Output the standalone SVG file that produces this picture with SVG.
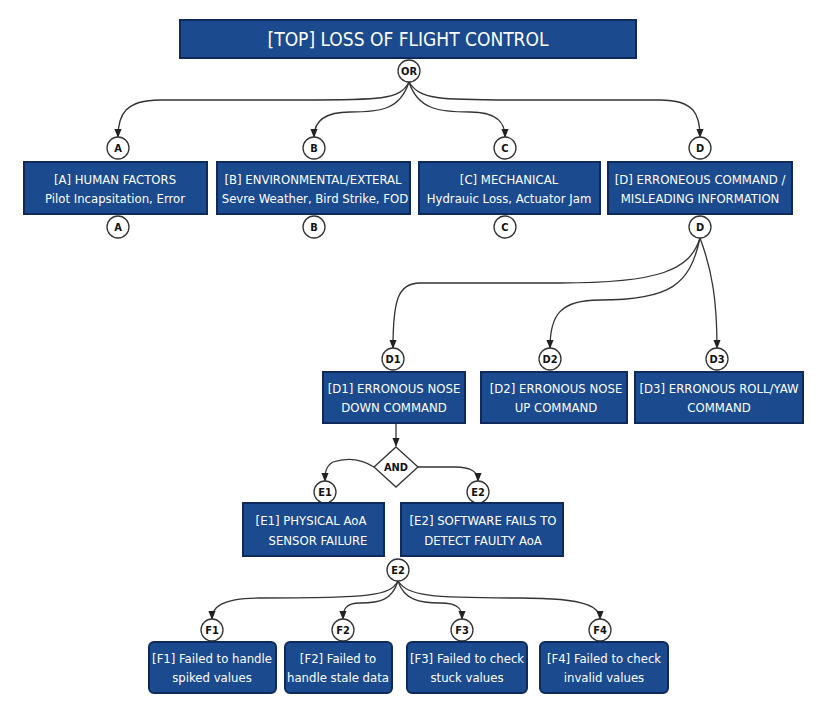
<svg xmlns="http://www.w3.org/2000/svg" width="832" height="720" viewBox="0 0 832 720">
<defs>
<marker id="ar" viewBox="0 0 10 10" refX="9" refY="5" markerWidth="7" markerHeight="7" orient="auto"><path d="M0,1 L10,5 L0,9 z" fill="#222"/></marker>
</defs>
<style>
.b{fill:#1b4a8e;stroke:#0d2a5a;stroke-width:2}
.t{fill:#fff;font-family:"DejaVu Sans Condensed","DejaVu Sans",sans-serif;font-size:13px;text-anchor:middle}
.c{fill:#fff;stroke:#333;stroke-width:1.3}
.ct{fill:#111;font-family:"DejaVu Sans Condensed","DejaVu Sans",sans-serif;font-size:11px;text-anchor:middle;font-weight:bold}
.l{fill:none;stroke:#333;stroke-width:1.3;marker-end:url(#ar)}
</style>
<rect width="832" height="720" fill="#fff"/>
<g id="connectors">
<path class="l" d="M409,82 C400,100 380,100 300,100 L160,100 C125,100 118,115 118,137"/>
<path class="l" d="M409,82 C400,110 380,112 350,112 C320,112 314,125 314,137"/>
<path class="l" d="M409,82 C418,110 440,112 470,112 C500,112 505,125 505,137"/>
<path class="l" d="M409,82 C420,100 440,100 520,100 L660,100 C695,100 700,115 700,137"/>
<path class="l" d="M700,238 C690,270 660,283 560,283 L420,283 C398,283 393,300 393,348"/>
<path class="l" d="M700,238 C690,285 670,300 600,300 C560,300 550,315 550,348"/>
<path class="l" d="M700,238 C712,270 717,300 717,348"/>
<path class="l" d="M396,424 L396,446"/>
<path class="l" d="M374,467 C360,458 345,458 333,462 C326,466 325,472 325,481"/>
<path class="l" d="M418,467 L455,467 C472,467 478,472 478,481"/>
<path class="l" d="M398,581 C390,596 370,598 260,598 C220,598 212,608 212,619"/>
<path class="l" d="M398,581 C392,600 380,603 360,603 C345,603 343,610 343,619"/>
<path class="l" d="M398,581 C404,600 420,603 440,603 C460,603 462,610 462,619"/>
<path class="l" d="M398,581 C408,596 430,598 520,598 C590,598 600,608 600,619"/>
</g>
<g id="top"><rect class="b" x="180" y="20" width="456" height="38"/><text class="t" x="408" y="46" style="font-size:19px">[TOP] LOSS OF FLIGHT CONTROL</text></g>
<g id="or"><circle class="c" cx="409" cy="71" r="11"/><text class="ct" x="409" y="75">OR</text></g>
<g id="A"><circle class="c" cx="118" cy="148" r="11"/><text class="ct" x="118" y="152">A</text><rect class="b" x="24" y="162" width="183" height="52"/><text class="t" x="115" y="184">[A] HUMAN FACTORS</text><text class="t" x="115" y="203">Pilot Incapsitation, Error</text><circle class="c" cx="118" cy="227" r="11"/><text class="ct" x="118" y="231">A</text></g>
<g id="B"><circle class="c" cx="314" cy="148" r="11"/><text class="ct" x="314" y="152">B</text><rect class="b" x="217" y="162" width="193" height="52"/><text class="t" x="313" y="184">[B] ENVIRONMENTAL/EXTERAL</text><text class="t" x="315" y="203">Sevre Weather, Bird Strike, FOD</text><circle class="c" cx="314" cy="227" r="11"/><text class="ct" x="314" y="231">B</text></g>
<g id="C"><circle class="c" cx="505" cy="148" r="11"/><text class="ct" x="505" y="152">C</text><rect class="b" x="419" y="162" width="181" height="52"/><text class="t" x="509" y="184">[C] MECHANICAL</text><text class="t" x="509" y="203">Hydrauic Loss, Actuator Jam</text><circle class="c" cx="505" cy="227" r="11"/><text class="ct" x="505" y="231">C</text></g>
<g id="D"><circle class="c" cx="700" cy="148" r="11"/><text class="ct" x="700" y="152">D</text><rect class="b" x="608" y="162" width="184" height="52"/><text class="t" x="700" y="184">[D] ERRONEOUS COMMAND /</text><text class="t" x="700" y="203">MISLEADING INFORMATION</text><circle class="c" cx="700" cy="227" r="11"/><text class="ct" x="700" y="231">D</text></g>
<g id="D1"><circle class="c" cx="393" cy="359" r="11"/><text class="ct" x="393" y="363">D1</text><rect class="b" x="323" y="372" width="142" height="51"/><text class="t" x="394" y="393">[D1] ERRONOUS NOSE</text><text class="t" x="394" y="412">DOWN COMMAND</text></g>
<g id="D2"><circle class="c" cx="550" cy="359" r="11"/><text class="ct" x="550" y="363">D2</text><rect class="b" x="481" y="372" width="146" height="51"/><text class="t" x="556" y="393">[D2] ERRONOUS NOSE</text><text class="t" x="556" y="412">UP COMMAND</text></g>
<g id="D3"><circle class="c" cx="717" cy="359" r="11"/><text class="ct" x="717" y="363">D3</text><rect class="b" x="635" y="372" width="168" height="51"/><text class="t" x="719" y="393">[D3] ERRONOUS ROLL/YAW</text><text class="t" x="719" y="412">COMMAND</text></g>
<g id="and"><path d="M396,447 L418,467 L396,487 L374,467 z" fill="#fff" stroke="#333" stroke-width="1.3"/><text class="ct" x="396" y="471">AND</text></g>
<g id="E1"><circle class="c" cx="325" cy="492" r="11"/><text class="ct" x="325" y="496">E1</text><rect class="b" x="243" y="503" width="141" height="53"/><text class="t" x="311" y="525">[E1] PHYSICAL AoA</text><text class="t" x="318" y="545">SENSOR FAILURE</text></g>
<g id="E2"><circle class="c" cx="478" cy="492" r="11"/><text class="ct" x="478" y="496">E2</text><rect class="b" x="401" y="503" width="162" height="53"/><text class="t" x="483" y="525">[E2] SOFTWARE FAILS TO</text><text class="t" x="483" y="545">DETECT FAULTY AoA</text><circle class="c" cx="398" cy="570" r="11"/><text class="ct" x="398" y="574">E2</text></g>
<g id="F1"><circle class="c" cx="212" cy="630" r="11"/><text class="ct" x="212" y="634">F1</text><rect class="b" x="149" y="642" width="127" height="51" rx="5"/><text class="t" x="212" y="663">[F1] Failed to handle</text><text class="t" x="212" y="682">spiked values</text></g>
<g id="F2"><circle class="c" cx="343" cy="630" r="11"/><text class="ct" x="343" y="634">F2</text><rect class="b" x="285" y="642" width="107" height="51" rx="5"/><text class="t" x="338" y="663">[F2] Failed to</text><text class="t" x="338" y="682">handle stale data</text></g>
<g id="F3"><circle class="c" cx="462" cy="630" r="11"/><text class="ct" x="462" y="634">F3</text><rect class="b" x="407" y="642" width="120" height="51" rx="5"/><text class="t" x="467" y="663">[F3] Failed to check</text><text class="t" x="467" y="682">stuck values</text></g>
<g id="F4"><circle class="c" cx="600" cy="630" r="11"/><text class="ct" x="600" y="634">F4</text><rect class="b" x="540" y="642" width="128" height="51" rx="5"/><text class="t" x="604" y="663">[F4] Failed to check</text><text class="t" x="604" y="682">invalid values</text></g>
</svg>
